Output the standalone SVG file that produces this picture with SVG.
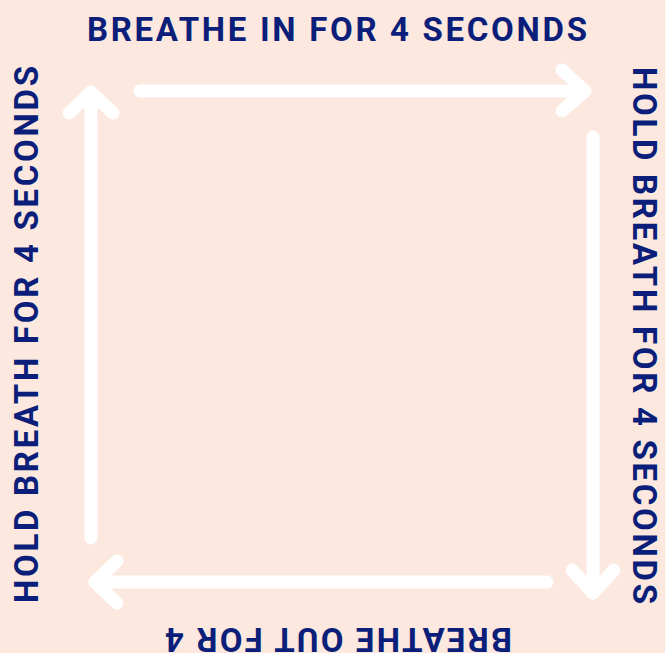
<svg xmlns="http://www.w3.org/2000/svg" width="665" height="653" viewBox="0 0 665 653">
  <style>
    .lbl { font-family: Roboto, "Liberation Sans", sans-serif; font-weight: 700; font-size: 33px; fill: #0b1f7a; }
    .arr { fill: none; stroke: #ffffff; stroke-width: 13; stroke-linecap: round; stroke-linejoin: round; }
  </style>
  <rect x="0" y="0" width="665" height="653" fill="#fce8df"/>
  <g id="connectors">
    <g id="arrow-top">
      <path class="arr" d="M140 91 H585"/>
      <path class="arr" d="M562 70 L585 91 L562 111"/>
    </g>
    <g id="arrow-right">
      <path class="arr" d="M593 137 V593"/>
      <path class="arr" d="M572 570 L593 593 L614 570"/>
    </g>
    <g id="arrow-bottom">
      <path class="arr" d="M547 582 H95"/>
      <path class="arr" d="M117 561 L95 582 L117 603"/>
    </g>
    <g id="arrow-left">
      <path class="arr" d="M91 538 V92"/>
      <path class="arr" d="M69 113 L91 92 L113 113"/>
    </g>
  </g>
  <g id="label-top">
    <text class="lbl" x="87" y="41" textLength="500" lengthAdjust="spacing">BREATHE IN FOR 4 SECONDS</text>
  </g>
  <g id="label-right">
    <text class="lbl" transform="translate(633,67) rotate(90)" x="0" y="0" textLength="537" lengthAdjust="spacing">HOLD BREATH FOR 4 SECONDS</text>
  </g>
  <g id="label-bottom">
    <text class="lbl" transform="translate(512,628) rotate(180)" x="0" y="0" textLength="347" lengthAdjust="spacing">BREATHE OUT FOR 4</text>
  </g>
  <g id="label-left">
    <text class="lbl" transform="translate(38,603) rotate(-90)" x="0" y="0" textLength="537" lengthAdjust="spacing">HOLD BREATH FOR 4 SECONDS</text>
  </g>
</svg>
